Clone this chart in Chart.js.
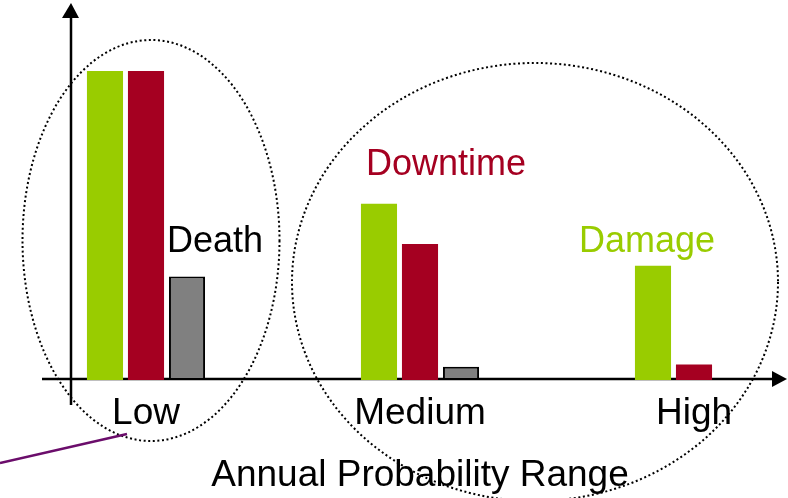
<!DOCTYPE html>
<html>
<head>
<meta charset="utf-8">
<script src="https://cdn.jsdelivr.net/npm/chart.js@4.4.1/dist/chart.umd.min.js"></script>
<style>
  html, body { margin: 0; padding: 0; background: #ffffff; }
  #wrap { width: 788px; height: 498px; }
</style>
</head>
<body>
<div id="wrap"><canvas id="c" width="788" height="498"></canvas></div>
<script>
// Consequence levels per annual probability range
const categories = ['Low', 'Medium', 'High'];
const damage = [100, 57, 37];
const downtime = [100, 44, 5];
const death = [33.5, 4.3, 0];
const seriesNames = ['Damage', 'Downtime', 'Death'];
const axisTitle = 'Annual Probability Range';

const FONT = '"Liberation Sans", Arial, Helvetica, sans-serif';
const GREEN = '#99CC00';
const CRIMSON = '#A50021';
const GREY = '#808080';

// Arrow axes, dotted grouping ellipses, series call-outs and pointer line
const decor = {
  id: 'decor',
  beforeDatasetsDraw(chart) {
    const ctx = chart.ctx;
    const y0 = chart.scales.y.getPixelForValue(0) - 1;
    ctx.save();
    ctx.fillStyle = '#000';
    ctx.strokeStyle = '#000';
    ctx.lineWidth = 2.5;
    // horizontal axis with arrow head
    ctx.beginPath(); ctx.moveTo(42, y0); ctx.lineTo(776, y0); ctx.stroke();
    ctx.beginPath(); ctx.moveTo(787, y0); ctx.lineTo(772, y0 - 8); ctx.lineTo(772, y0 + 8); ctx.closePath(); ctx.fill();
    // vertical axis with arrow head
    ctx.beginPath(); ctx.moveTo(71, 405); ctx.lineTo(71, 16); ctx.stroke();
    ctx.beginPath(); ctx.moveTo(71, 3); ctx.lineTo(62, 18); ctx.lineTo(79, 18); ctx.closePath(); ctx.fill();
    ctx.restore();
  },
  afterDraw(chart) {
    const ctx = chart.ctx;
    ctx.save();
    // dotted ellipses grouping the ranges
    ctx.strokeStyle = '#000';
    ctx.lineWidth = 2;
    ctx.setLineDash([2, 2.6]);
    ctx.beginPath(); ctx.ellipse(151, 240.5, 128.5, 200.5, 0, 0, Math.PI * 2); ctx.stroke();
    ctx.beginPath(); ctx.ellipse(535, 282, 243, 219, 0, 0, Math.PI * 2); ctx.stroke();
    ctx.setLineDash([]);

    // pointer line
    ctx.strokeStyle = '#6B0D6B';
    ctx.lineWidth = 2.5;
    ctx.beginPath(); ctx.moveTo(0, 463); ctx.lineTo(127, 434); ctx.stroke();

    // series call-outs placed next to a bar of each series
    ctx.font = '36px ' + FONT;
    ctx.textBaseline = 'alphabetic';
    ctx.textAlign = 'left';
    const callouts = [
      { ds: 2, idx: 0, dx: -20, dy: -24, color: '#000000' },
      { ds: 1, idx: 1, dx: -54, dy: -69, color: CRIMSON },
      { ds: 0, idx: 2, dx: -74, dy: -14, color: GREEN }
    ];
    callouts.forEach(c => {
      const bar = chart.getDatasetMeta(c.ds).data[c.idx];
      ctx.fillStyle = c.color;
      ctx.fillText(seriesNames[c.ds], bar.x + c.dx, bar.y + c.dy);
    });
    ctx.restore();
  }
};

new Chart(document.getElementById('c'), {
  type: 'bar',
  data: {
    labels: categories,
    datasets: [
      { label: seriesNames[0], data: damage, backgroundColor: GREEN, borderWidth: 0, clip: false },
      { label: seriesNames[1], data: downtime, backgroundColor: CRIMSON, borderWidth: 0, clip: false },
      { label: seriesNames[2], data: death, backgroundColor: GREY, borderColor: '#000000', borderWidth: 2, borderSkipped: false, clip: false }
    ]
  },
  options: {
    responsive: false,
    animation: false,
    devicePixelRatio: 1,
    layout: { padding: { left: 146, right: 94, top: 71, bottom: 0.2 } },
    datasets: { bar: { categoryPercentage: 0.449, barPercentage: 0.88 } },
    plugins: { legend: { display: false }, tooltip: { enabled: false } },
    scales: {
      x: {
        offset: false,
        grid: { display: false, drawTicks: false },
        border: { display: false },
        ticks: { color: '#000', padding: 12, font: { family: FONT, size: 37 }, maxRotation: 0 },
        title: { display: true, text: axisTitle, color: '#000', padding: { top: 5, bottom: 0 }, font: { family: FONT, size: 37 } }
      },
      y: {
        display: false,
        min: 0,
        max: 100
      }
    }
  },
  plugins: [decor]
});
</script>
</body>
</html>
